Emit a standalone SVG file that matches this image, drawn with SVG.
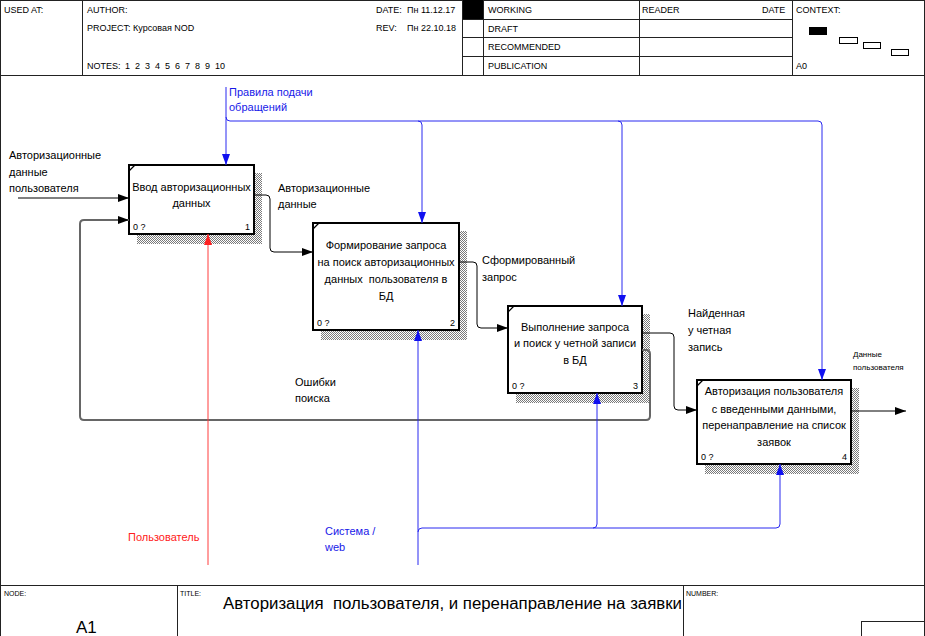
<svg xmlns="http://www.w3.org/2000/svg" width="925" height="636" viewBox="0 0 925 636">
<style>
text{font-family:"Liberation Sans",Arial,sans-serif;fill:#000}
.hd{font-size:9px}
.sm{font-size:7px}
.nt{font-size:11px;text-anchor:middle}
.lb{font-size:11px}
.ct{font-size:9px}
.frame{fill:none;stroke:#222;stroke-width:1}
.box{fill:#fff;stroke:#000;stroke-width:2}
.shadow{fill:url(#hatch);stroke:none}
.blk{fill:none;stroke:#000;stroke-width:1}
.gry{fill:none;stroke:#666;stroke-width:2}
.blu{fill:none;stroke:#2828f0;stroke-width:1}
.red{fill:none;stroke:#ff3c3c;stroke-width:1}
.bl{fill:#1818e8}
.rd{fill:#ff2020}
</style>
<defs>
<pattern id="hatch" width="2" height="2" patternUnits="userSpaceOnUse">
<rect width="2" height="2" fill="#fff"/>
<rect x="0" y="0" width="1" height="1" fill="#7a7a7a"/>
<rect x="1" y="1" width="1" height="1" fill="#7a7a7a"/>
</pattern>
<marker id="ak" markerUnits="userSpaceOnUse" markerWidth="12" markerHeight="10" refX="11" refY="5" orient="auto"><path d="M0,1 L11,5 L0,9 z" fill="#000"/></marker>
<marker id="ab" markerUnits="userSpaceOnUse" markerWidth="12" markerHeight="10" refX="11" refY="5" orient="auto"><path d="M0,1 L11,5 L0,9 z" fill="#1010f0"/></marker>
<marker id="ar" markerUnits="userSpaceOnUse" markerWidth="12" markerHeight="10" refX="11" refY="5" orient="auto"><path d="M0,1 L11,5 L0,9 z" fill="#ff2020"/></marker>
</defs>
<rect width="925" height="636" fill="#fff"/>

<g id="header">
<rect class="frame" x="0.5" y="0.5" width="924" height="75"/>
<line class="frame" x1="82.5" y1="0" x2="82.5" y2="75"/>
<line class="frame" x1="462.5" y1="0" x2="462.5" y2="75"/>
<line class="frame" x1="483.5" y1="0" x2="483.5" y2="75"/>
<line class="frame" x1="639.5" y1="0" x2="639.5" y2="75"/>
<line class="frame" x1="792.5" y1="0" x2="792.5" y2="75"/>
<line class="frame" x1="462" y1="19.5" x2="792" y2="19.5"/>
<line class="frame" x1="462" y1="37.5" x2="792" y2="37.5"/>
<line class="frame" x1="462" y1="56.5" x2="792" y2="56.5"/>
<rect x="463" y="0" width="20" height="19" fill="#000"/>
<text class="hd" x="4" y="13">USED AT:</text>
<text class="hd" x="87" y="13">AUTHOR:</text>
<text class="hd" x="87" y="31">PROJECT:</text>
<text class="hd" x="133" y="31">Курсовая NOD</text>
<text class="hd" x="87" y="69">NOTES:</text>
<text class="hd" x="125" y="69" word-spacing="2.5">1 2 3 4 5 6 7 8 9 10</text>
<text class="hd" x="376" y="13">DATE:</text>
<text class="hd" x="407" y="13">Пн 11.12.17</text>
<text class="hd" x="376" y="31">REV:</text>
<text class="hd" x="407" y="31">Пн 22.10.18</text>
<text class="hd" x="488" y="13">WORKING</text>
<text class="hd" x="488" y="32">DRAFT</text>
<text class="hd" x="488" y="50">RECOMMENDED</text>
<text class="hd" x="488" y="69">PUBLICATION</text>
<text class="hd" x="642" y="13">READER</text>
<text class="hd" x="762" y="13">DATE</text>
<text class="hd" x="796" y="13">CONTEXT:</text>
<text class="hd" x="796" y="69">A0</text>
<rect x="809" y="27" width="18" height="8" fill="#000"/>
<rect x="839.5" y="37.5" width="18" height="6" fill="#fff" stroke="#000"/>
<rect x="863.5" y="42.5" width="17" height="6" fill="#fff" stroke="#000"/>
<rect x="891.5" y="49.5" width="17" height="6" fill="#fff" stroke="#000"/>
</g>

<g id="frame">
<line class="frame" x1="0.5" y1="75" x2="0.5" y2="636"/>
<line class="frame" x1="924.5" y1="75" x2="924.5" y2="636"/>
</g>

<g id="footer">
<line class="frame" x1="0" y1="585.5" x2="925" y2="585.5"/>
<line class="frame" x1="177.5" y1="585" x2="177.5" y2="636"/>
<line class="frame" x1="683.5" y1="585" x2="683.5" y2="636"/>
<rect class="frame" x="861.5" y="621.5" width="63" height="15"/>
<text class="sm" x="4" y="596">NODE:</text>
<text x="76" y="633" font-size="17">A1</text>
<text class="sm" x="180" y="596">TITLE:</text>
<text x="223" y="609" font-size="16" textLength="459" lengthAdjust="spacingAndGlyphs">Авторизация&#160; пользователя, и перенаправление на заявки</text>
<text class="sm" x="686" y="596">NUMBER:</text>
</g>

<g id="node1">
<rect class="shadow" x="137" y="173" width="125" height="71"/>
<rect class="box" x="129" y="165" width="125" height="69"/>
<line x1="129" y1="171" x2="135" y2="165" stroke="#000" stroke-width="1.2"/>
<text class="nt" x="191.5" y="191">Ввод авторизационных</text>
<text class="nt" x="191.5" y="207">данных</text>
<text class="ct" x="133" y="230">0 ?</text>
<text class="ct" x="250" y="230" text-anchor="end">1</text>
</g>

<g id="node2">
<rect class="shadow" x="321" y="231" width="146" height="109"/>
<rect class="box" x="313" y="223" width="146" height="107"/>
<line x1="313" y1="229" x2="319" y2="223" stroke="#000" stroke-width="1.2"/>
<text class="nt" x="386" y="249">Формирование запроса</text>
<text class="nt" x="386" y="266">на поиск авторизационных</text>
<text class="nt" x="386" y="283" xml:space="preserve">данных  пользователя в</text>
<text class="nt" x="386" y="300">БД</text>
<text class="ct" x="317" y="326">0 ?</text>
<text class="ct" x="455" y="326" text-anchor="end">2</text>
</g>

<g id="node3">
<rect class="shadow" x="516" y="314" width="134" height="89"/>
<rect class="box" x="508" y="306" width="134" height="87"/>
<line x1="508" y1="312" x2="514" y2="306" stroke="#000" stroke-width="1.2"/>
<text class="nt" x="575" y="331">Выполнение запроса</text>
<text class="nt" x="575" y="347">и поиск у четной записи</text>
<text class="nt" x="575" y="364">в БД</text>
<text class="ct" x="512" y="389">0 ?</text>
<text class="ct" x="638" y="389" text-anchor="end">3</text>
</g>

<g id="node4">
<rect class="shadow" x="705" y="388" width="154" height="86"/>
<rect class="box" x="697" y="380" width="154" height="84"/>
<line x1="697" y1="386" x2="703" y2="380" stroke="#000" stroke-width="1.2"/>
<text class="nt" x="774" y="395">Авторизация пользователя</text>
<text class="nt" x="774" y="413">с введенными данными,</text>
<text class="nt" x="774" y="429">перенаправление на список</text>
<text class="nt" x="774" y="446">заявок</text>
<text class="ct" x="701" y="460">0 ?</text>
<text class="ct" x="847" y="460" text-anchor="end">4</text>
</g>

<g id="connectors">
<path class="blk" d="M18,198 H129" marker-end="url(#ak)"/>
<path class="gry" d="M642,350 H646 Q650,350 650,354 V416 Q650,420 646,420 H84 Q80,420 80,416 V224 Q80,220 84,220 H129" marker-end="url(#ak)"/>
<path class="blk" d="M254,195 H266 Q270,195 270,199 V248 Q270,252 274,252 H313" marker-end="url(#ak)"/>
<path class="blk" d="M459,262 H473 Q477,262 477,266 V324 Q477,328 481,328 H508" marker-end="url(#ak)"/>
<path class="blk" d="M642,333 H670 Q674,333 674,337 V406 Q674,410 678,410 H697" marker-end="url(#ak)"/>
<path class="blk" d="M851,411 H906" marker-end="url(#ak)"/>
<path class="blu" stroke-width="1.5" d="M226,87 V165" marker-end="url(#ab)"/>
<path class="blu" d="M226,117 Q226,121 230,121 H818 Q822,121 822,125 V380" marker-end="url(#ab)"/>
<path class="blu" d="M418,121 Q422,121 422,125 V223" marker-end="url(#ab)"/>
<path class="blu" d="M618,121 Q622,121 622,125 V306" marker-end="url(#ab)"/>
<path class="red" d="M208,565 V234" marker-end="url(#ar)"/>
<path class="blu" stroke-width="1.5" d="M418,565 V330" marker-end="url(#ab)"/>
<path class="blu" d="M418,532 Q418,528 422,528 H776 Q780,528 780,524 V464" marker-end="url(#ab)"/>
<path class="blu" d="M593,528 Q597,528 597,524 V393" marker-end="url(#ab)"/>
</g>

<g id="labels">
<text class="lb" x="9" y="159">Авторизационные</text>
<text class="lb" x="9" y="176">данные</text>
<text class="lb" x="9" y="192">пользователя</text>
<text class="lb bl" x="229" y="96">Правила подачи</text>
<text class="lb bl" x="229" y="111">обращений</text>
<text class="lb" x="278" y="192">Авторизационные</text>
<text class="lb" x="278" y="208">данные</text>
<text class="lb" x="482" y="264">Сформированный</text>
<text class="lb" x="482" y="281">запрос</text>
<text class="lb" x="688" y="317">Найденная</text>
<text class="lb" x="688" y="334">у четная</text>
<text class="lb" x="688" y="351">запись</text>
<text x="853" y="357" font-size="8">Данные</text>
<text x="853" y="370" font-size="8">пользователя</text>
<text class="lb" x="295" y="386">Ошибки</text>
<text class="lb" x="295" y="402">поиска</text>
<text class="lb rd" x="128" y="541">Пользователь</text>
<text class="lb bl" x="325" y="535">Система /</text>
<text class="lb bl" x="325" y="551">web</text>
</g>
</svg>
